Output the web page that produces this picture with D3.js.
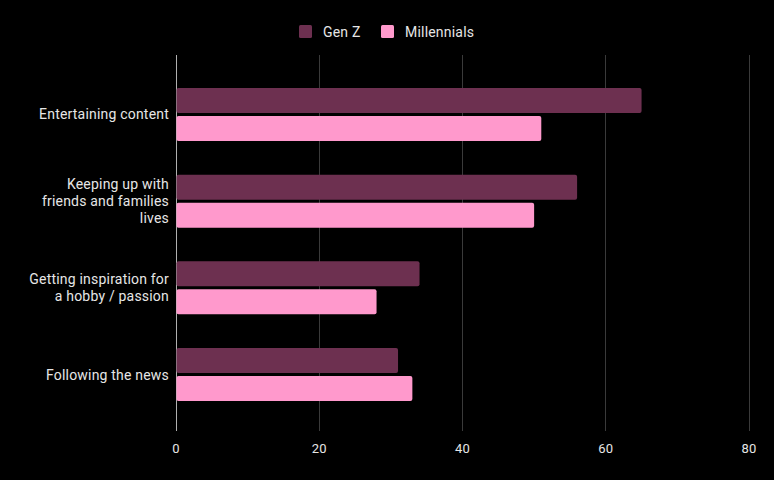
<!DOCTYPE html>
<html><head><meta charset="utf-8">
<script src="https://cdn.jsdelivr.net/npm/d3@7/dist/d3.min.js"></script>
<style>body{margin:0;background:#000}svg{display:block}</style>
</head><body>
<svg id="c" width="774" height="480"></svg>
<script>
const categories = [
  ["Entertaining content"],
  ["Keeping up with", "friends and families", "lives"],
  ["Getting inspiration for", "a hobby / passion"],
  ["Following the news"]
];
const seriesNames = ["Gen Z", "Millennials"];
const genZ = [65, 56, 34, 31];
const millennials = [51, 50, 28, 33];
const xTicks = [0, 20, 40, 60, 80];
const colors = ["#6d3050", "#ff99cc"];

(function () {
const svg = d3.select("#c");
svg.append("rect").attr("width",774).attr("height",480).attr("fill","#000");
const mLeft = 176, mRight = 749, mTop = 55, mBottom = 431;
const keys = categories.map(c => c.join(" "));
const x = d3.scaleLinear().domain([0, 80]).range([mLeft, mRight]);
const y = d3.scaleBand().domain(keys).range([88, 401]).paddingInner(0.389).paddingOuter(0);
const ys = d3.scaleBand().domain(seriesNames).range([0, y.bandwidth()]).paddingInner(0.107);
const font = "Roboto, 'Liberation Sans', Arial, sans-serif";

svg.append("g").selectAll("line").data(xTicks).join("line")
  .attr("x1", d => x(d)).attr("x2", d => x(d))
  .attr("y1", mTop).attr("y2", mBottom)
  .attr("stroke", d => d === 0 ? "#b0b0b0" : "#3a3a3a").attr("stroke-width", 1)
  .attr("shape-rendering","crispEdges");

svg.append("g").selectAll("text").data(xTicks).join("text")
  .attr("x", d => x(d)).attr("y", 453).attr("text-anchor","middle")
  .attr("fill","#e6e6e6").attr("font-family", font).attr("font-size", 13)
  .attr("letter-spacing", 0.2).text(d => d);

const data = [genZ, millennials];
const g = svg.append("g");
keys.forEach((k, i) => {
  seriesNames.forEach((s, j) => {
    const v = data[j][i];
    g.append("rect")
      .attr("x", x(0) + 0.5).attr("y", y(k) + ys(s))
      .attr("width", x(v) - x(0) - 0.5).attr("height", ys.bandwidth())
      .attr("rx", 2).attr("fill", colors[j]);
  });
});

const lh = 17;
categories.forEach((lines, i) => {
  const cy = y(keys[i]) + y.bandwidth() / 2;
  const t = svg.append("text").attr("text-anchor","end").attr("fill","#e6e6e6")
    .attr("font-family", font).attr("font-size", 14).attr("letter-spacing", 0.2);
  lines.forEach((ln, li) => {
    t.append("tspan").attr("x", 169)
      .attr("y", cy + (li - (lines.length - 1) / 2) * lh + 5).text(ln);
  });
});

const legX = [299, 381];
seriesNames.forEach((s, j) => {
  svg.append("rect").attr("x", legX[j]).attr("y", 25).attr("width", 13).attr("height", 13)
    .attr("rx", 1.5).attr("fill", colors[j]);
  svg.append("text").attr("x", legX[j] + 24).attr("y", 36.5).attr("fill","#e6e6e6")
    .attr("font-family", font).attr("font-size", 14).attr("letter-spacing", 0.2).text(s);
});
})();
</script>
</body></html>
